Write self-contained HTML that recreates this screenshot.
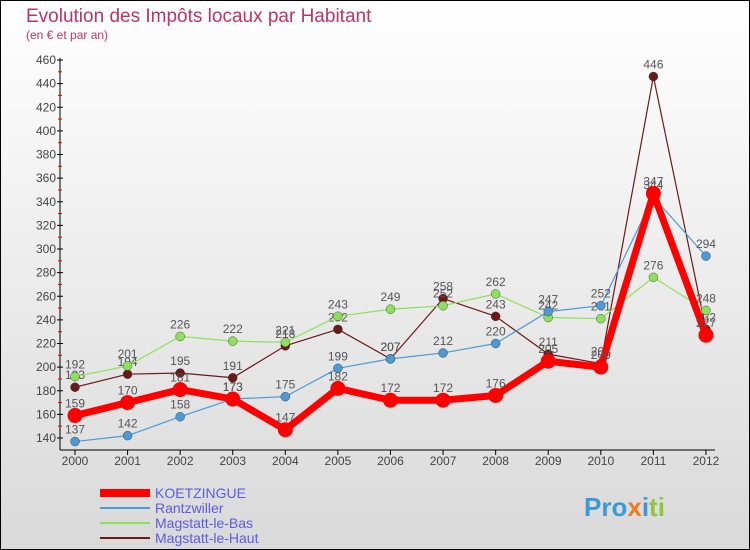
<!DOCTYPE html>
<html><head><meta charset="utf-8"><style>
body{margin:0;width:750px;height:550px;overflow:hidden;font-family:"Liberation Sans",sans-serif}
#c{position:absolute;left:0;top:0;width:748px;height:548px;border:1px solid #000;background:linear-gradient(#fff,#d9d9d9)}
</style></head><body>
<div id="c">
<svg id="s" width="750" height="550" style="position:absolute;left:-1px;top:-1px">
<text x="26" y="22" font-size="19" fill="#c0335f">Evolution des Impôts locaux par Habitant</text>
<text x="26" y="39" font-size="12" fill="#c0335f">(en € et par an)</text>
<g id="ax"></g><g id="ser"></g><g id="lg"></g>
<text x="584" y="516" font-size="26" font-weight="bold" fill="#3a9ad9">Pro<tspan fill="#f07d1a">x</tspan><tspan fill="#3a9ad9">i</tspan><tspan fill="#8dc63f">ti</tspan></text>
</svg></div>
<script>
const years=["2000","2001","2002","2003","2004","2005","2006","2007","2008","2009","2010","2011","2012"];
const koetzingue=[159,170,181,173,147,182,172,172,176,205,200,347,227];
const rantzwiller=[137,142,158,173,175,199,207,212,220,247,252,344,294];
const magBas=[192,201,226,222,221,243,249,252,262,242,241,276,248];
const magHaut=[183,194,195,191,218,232,207,258,243,211,203,446,232];
const yTicks=[140,160,180,200,220,240,260,280,300,320,340,360,380,400,420,440,460];
const NS="http://www.w3.org/2000/svg";
const X=i=>75+i*52.58, Y=v=>438-(v-140)*378/320;
function mk(p,t,a){const e=document.createElementNS(NS,t);for(const k in a)e.setAttribute(k,a[k]);p.appendChild(e);return e;}
const ax=document.getElementById('ax');
let e=mk(ax,'line',{x1:60,y1:58,x2:60,y2:450,stroke:'#000'});

e=mk(ax,'line',{x1:60,y1:450,x2:715,y2:450,stroke:'#000'});

yTicks.forEach(v=>{
 mk(ax,'line',{x1:57,y1:Y(v),x2:63,y2:Y(v),stroke:'#000'});
 if(v<460)mk(ax,'line',{x1:58,y1:Y(v+10),x2:62,y2:Y(v+10),stroke:'#e00'});
 const t=mk(ax,'text',{x:56,y:Y(v)+4,'font-size':12,'text-anchor':'end',fill:'#444'});t.textContent=v;
 
});
years.forEach((y,i)=>{
 mk(ax,'line',{x1:X(i),y1:450,x2:X(i),y2:455,stroke:'#000'});
 const t=mk(ax,'text',{x:X(i),y:465,'font-size':12,'text-anchor':'middle',fill:'#444'});t.textContent=y;
 
});
const series=[
 {n:'Magstatt-le-Haut',d:magHaut,c:'#6b1a1a',w:1.2,r:4.5},
 {n:'Magstatt-le-Bas',d:magBas,c:'#8ee05a',w:1.2,r:4.5},
 {n:'Rantzwiller',d:rantzwiller,c:'#4b9ad6',w:1.2,r:4.5},
 {n:'KOETZINGUE',d:koetzingue,c:'#f00',w:7,r:7.5}];
const sg=document.getElementById('ser');
series.forEach(s=>{
 const g=mk(sg,'g',{});
 
 mk(g,'polyline',{points:s.d.map((v,i)=>X(i)+','+Y(v)).join(' '),fill:'none',stroke:s.c,'stroke-width':s.w,'stroke-linejoin':'round'});
 s.d.forEach((v,i)=>{
  const c=mk(g,'circle',{cx:X(i),cy:Y(v),r:s.r,fill:s.c,stroke:s.w<2?'#333':'none','stroke-width':0.4});
  
  const t=mk(g,'text',{x:X(i),y:Y(v)-8,'font-size':12,'text-anchor':'middle',fill:'#555'});t.textContent=v;
  
 });
});
const lg=document.getElementById('lg');
[{n:'KOETZINGUE',c:'#f00',w:8},{n:'Rantzwiller',c:'#4b9ad6',w:2},{n:'Magstatt-le-Bas',c:'#8ee05a',w:2},{n:'Magstatt-le-Haut',c:'#6b1a1a',w:2}].forEach((s,i)=>{
 const y=493+i*15;
 const g=mk(lg,'g',{});
 
 mk(g,'line',{x1:100,y1:y,x2:150,y2:y,stroke:s.c,'stroke-width':s.w});
 const t=mk(g,'text',{x:155,y:y+5,'font-size':14,fill:'#5b5be0'});t.textContent=s.n;
});
</script></body></html>
